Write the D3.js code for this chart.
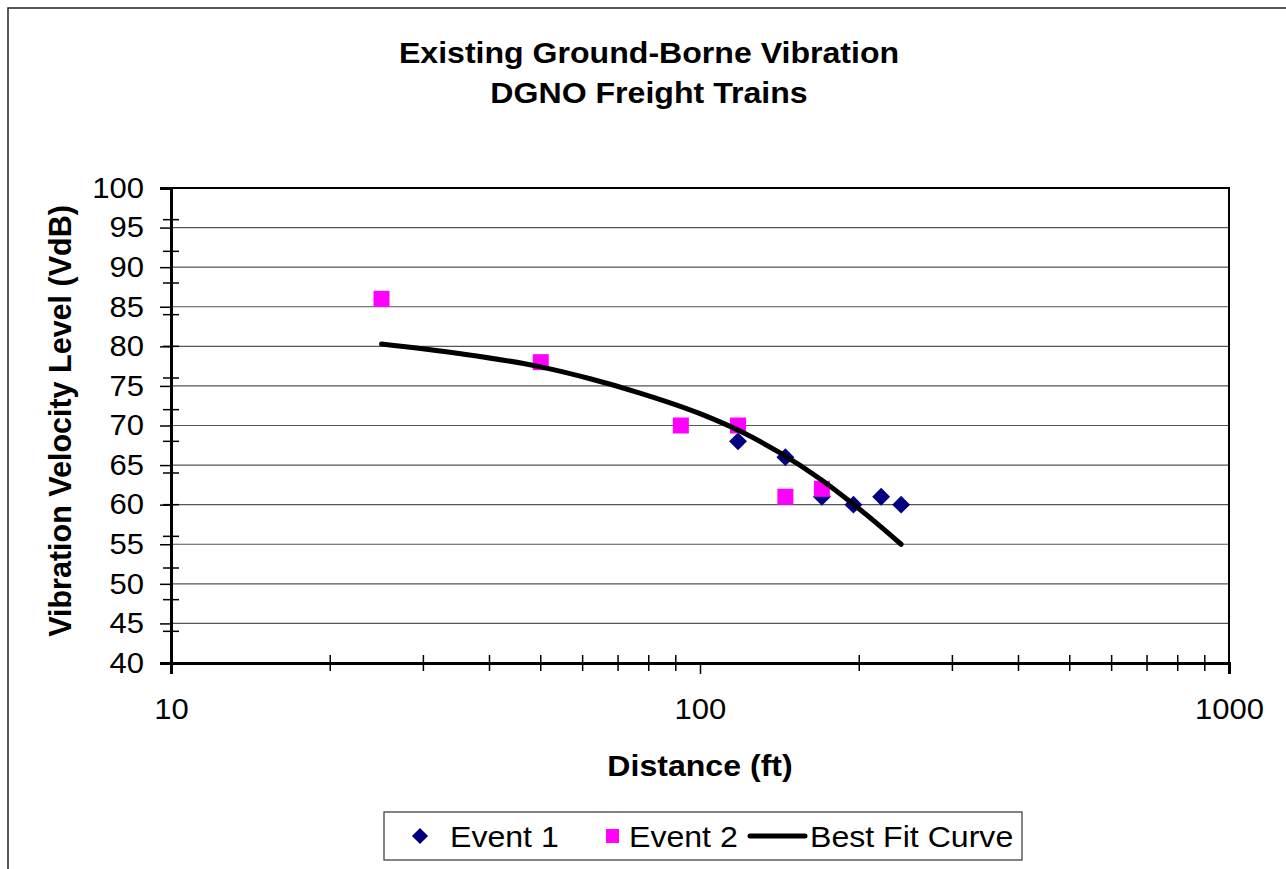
<!DOCTYPE html>
<html>
<head>
<meta charset="utf-8">
<script src="https://cdn.jsdelivr.net/npm/d3@7"></script>
<style>
  body { margin: 0; background: #fff; }
  svg { display: block; font-family: "Liberation Sans", Arial, sans-serif; }
</style>
</head>
<body>
<div id="chart"></div>
<script>
// values
const titleLines = ["Existing Ground-Borne Vibration", "DGNO Freight Trains"];
const xTitle = "Distance (ft)";
const yTitle = "Vibration Velocity Level (VdB)";

const event1 = [
  { dist: 118, vdb: 68 }, { dist: 145, vdb: 66 }, { dist: 170, vdb: 61 },
  { dist: 195, vdb: 60 }, { dist: 220, vdb: 61 }, { dist: 240, vdb: 60 }
];
const event2 = [
  { dist: 25, vdb: 86 }, { dist: 50, vdb: 78 }, { dist: 92, vdb: 70 },
  { dist: 118, vdb: 70 }, { dist: 145, vdb: 61 }, { dist: 170, vdb: 62 }
];
const fitCurve = [
  { dist: 25, vdb: 80.3 }, { dist: 35, vdb: 79.1 }, { dist: 50, vdb: 77.4 },
  { dist: 62, vdb: 75.9 }, { dist: 77, vdb: 74.1 }, { dist: 100, vdb: 71.5 },
  { dist: 119, vdb: 69.3 }, { dist: 142, vdb: 66.5 }, { dist: 169, vdb: 63.2 },
  { dist: 192, vdb: 60.4 }, { dist: 219, vdb: 57.3 }, { dist: 240, vdb: 55.0 }
];

const xMajorTicks = [10, 100, 1000];
const yMajorTicks = d3.range(40, 101, 5);
const yMinorTicks = d3.range(40, 101, 4);
const legendItems = ["Event 1", "Event 2", "Best Fit Curve"];

const W = 1286, H = 869;
const plot = { left: 171, right: 1229, top: 188, bottom: 663 };
const navy = "#000080", magenta = "#FF00FF";
const stretch = 1.07; // the reference text is a little wider than it is tall

const svg = d3.select("#chart").append("svg")
  .attr("width", W).attr("height", H);

// outer chart frame (runs off the right and bottom of the picture)
svg.append("rect")
  .attr("x", 8).attr("y", 8).attr("width", W + 10).attr("height", H + 10)
  .attr("fill", "white").attr("stroke", "#222").attr("stroke-width", 1.5);

function wideText(parent, tx, ty, str, size, bold, anchor) {
  return parent.append("g")
    .attr("transform", `translate(${tx},${ty}) scale(${stretch},1)`)
    .append("text")
    .attr("text-anchor", anchor || "middle")
    .attr("font-size", size)
    .attr("font-weight", bold ? "bold" : "normal")
    .text(str);
}

let x = d3.scaleLog().domain([10, 1000]).range([plot.left, plot.right]);
let y = d3.scaleLinear().domain([40, 100]).range([plot.bottom, plot.top]);

// title
titleLines.forEach((t, i) => wideText(svg, 649, 63 + i * 40, t, 30, true));

// horizontal gridlines
svg.append("g").selectAll("line")
  .data(yMajorTicks.filter(v => v > 40 && v < 100)).enter().append("line")
  .attr("x1", plot.left).attr("x2", plot.right)
  .attr("y1", d => y(d)).attr("y2", d => y(d))
  .attr("stroke", "#555").attr("stroke-width", 1.2);

// plot border top + right
svg.append("path")
  .attr("d", `M${plot.left},${plot.top}H${plot.right}V${plot.bottom}`)
  .attr("fill", "none").attr("stroke", "black").attr("stroke-width", 2);

// y axis
let yAxis = d3.axisLeft(y).tickValues(yMajorTicks).tickSize(11).tickPadding(16);
let gy = svg.append("g").attr("transform", `translate(${plot.left},0)`).call(yAxis);
gy.select(".domain").attr("stroke-width", 3);
gy.selectAll(".tick line").attr("stroke-width", 1.5);
gy.selectAll(".tick text")
  .attr("font-size", 29).attr("font-family", "Liberation Sans, Arial, sans-serif").attr("fill", "black")
  .attr("transform", `translate(-27,0) scale(${stretch},1) translate(27,0)`);
gy.append("g").selectAll("line")
  .data(yMinorTicks).enter().append("line")
  .attr("x1", -8).attr("x2", 8)
  .attr("y1", d => y(d)).attr("y2", d => y(d))
  .attr("stroke", "black").attr("stroke-width", 1.5);

// x axis
let xMinor = [];
[10, 100].forEach(dec => { for (let k = 2; k <= 9; k++) xMinor.push(dec * k); });
let xAxis = d3.axisBottom(x).tickValues(xMajorTicks).tickFormat(d3.format("d"))
  .tickSize(11).tickPadding(24);
let gx = svg.append("g").attr("transform", `translate(0,${plot.bottom})`).call(xAxis);
gx.select(".domain").attr("stroke-width", 3);
gx.selectAll(".tick line").attr("stroke-width", 1.5);
gx.selectAll(".tick text")
  .attr("font-size", 29).attr("font-family", "Liberation Sans, Arial, sans-serif").attr("fill", "black")
  .attr("transform", `scale(${stretch},1)`);
gx.append("g").selectAll("line")
  .data(xMinor).enter().append("line")
  .attr("x1", d => x(d)).attr("x2", d => x(d))
  .attr("y1", -8).attr("y2", 8)
  .attr("stroke", "black").attr("stroke-width", 1.5);

// axis titles
wideText(svg, 700, 776, xTitle, 30, true);

svg.append("text")
  .attr("transform", "translate(71,421) rotate(-90)")
  .attr("text-anchor", "middle")
  .attr("font-size", 30.5).attr("font-weight", "bold")
  .text(yTitle);

// markers
let diamond = d3.symbol().type(d3.symbolSquare).size(160);
svg.append("g").selectAll("path")
  .data(event1).enter().append("path")
  .attr("d", diamond)
  .attr("transform", d => `translate(${x(d.dist)},${y(d.vdb)}) rotate(45)`)
  .attr("fill", navy);

svg.append("g").selectAll("rect")
  .data(event2).enter().append("rect")
  .attr("x", d => x(d.dist) - 8).attr("y", d => y(d.vdb) - 8)
  .attr("width", 16).attr("height", 16)
  .attr("fill", magenta);

// best fit curve
let line = d3.line()
  .x(d => x(d.dist)).y(d => y(d.vdb))
  .curve(d3.curveMonotoneX);
svg.append("path")
  .datum(fitCurve)
  .attr("d", line)
  .attr("fill", "none").attr("stroke", "black")
  .attr("stroke-width", 5).attr("stroke-linecap", "round");

// legend
let lg = svg.append("g");
lg.append("rect")
  .attr("x", 384).attr("y", 812).attr("width", 638).attr("height", 48)
  .attr("fill", "white").attr("stroke", "#333").attr("stroke-width", 1.2);
lg.append("path")
  .attr("d", d3.symbol().type(d3.symbolSquare).size(130))
  .attr("transform", "translate(420,836) rotate(45)")
  .attr("fill", navy);
lg.append("rect")
  .attr("x", 606).attr("y", 829).attr("width", 13).attr("height", 14)
  .attr("fill", magenta);
lg.append("line")
  .attr("x1", 750).attr("x2", 805).attr("y1", 836).attr("y2", 836)
  .attr("stroke", "black").attr("stroke-width", 5).attr("stroke-linecap", "round");
legendItems.forEach((t, i) => wideText(lg, [450, 629, 810][i], 847, t, 30, false, "start"));
</script>
</body>
</html>
